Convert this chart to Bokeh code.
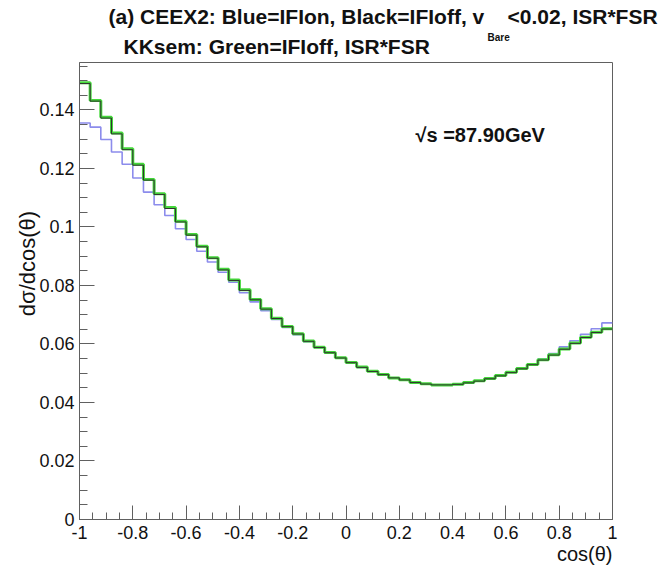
import numpy as np
from bokeh.plotting import figure
from bokeh.models import Range1d, FixedTicker, Label
from bokeh.embed import file_html
from bokeh.resources import INLINE

# ---------------- data ----------------
n_bins = 50
x_lo, x_hi = -1.0, 1.0
y_max = 0.1562

green_kksem_ifioff = [
    0.1493, 0.1432, 0.1375, 0.1321, 0.1267, 0.1214, 0.1162, 0.1113, 0.1066, 0.1019,
    0.0974, 0.0934, 0.0895, 0.0855, 0.0819, 0.0785, 0.0752, 0.0720, 0.0688, 0.0660,
    0.0635, 0.0610, 0.0589, 0.0571, 0.0553, 0.0537, 0.0521, 0.0507, 0.0496, 0.0484,
    0.0478, 0.0468, 0.0464, 0.0460, 0.0460, 0.0462, 0.0468, 0.0474, 0.0482, 0.0492,
    0.0503, 0.0516, 0.0530, 0.0546, 0.0563, 0.0583, 0.0603, 0.0623, 0.0640, 0.0652,
]
black_ceex2_ifioff = [
    0.1490, 0.1430, 0.1372, 0.1318, 0.1264, 0.1211, 0.1160, 0.1111, 0.1063, 0.1017,
    0.0972, 0.0932, 0.0893, 0.0853, 0.0817, 0.0783, 0.0751, 0.0719, 0.0687, 0.0659,
    0.0634, 0.0609, 0.0588, 0.0570, 0.0552, 0.0536, 0.0520, 0.0506, 0.0495, 0.0484,
    0.0477, 0.0468, 0.0463, 0.0460, 0.0460, 0.0462, 0.0467, 0.0473, 0.0481, 0.0491,
    0.0502, 0.0515, 0.0529, 0.0545, 0.0562, 0.0582, 0.0602, 0.0622, 0.0639, 0.0651,
]
blue_ceex2_ifion = [
    0.1355, 0.1341, 0.1299, 0.1256, 0.1214, 0.1167, 0.1119, 0.1076, 0.1039, 0.0994,
    0.0957, 0.0917, 0.0880, 0.0845, 0.0811, 0.0775, 0.0744, 0.0714, 0.0684, 0.0656,
    0.0632, 0.0608, 0.0587, 0.0569, 0.0552, 0.0536, 0.0520, 0.0507, 0.0495, 0.0484,
    0.0477, 0.0468, 0.0463, 0.0460, 0.0460, 0.0462, 0.0467, 0.0474, 0.0482, 0.0493,
    0.0504, 0.0517, 0.0531, 0.0548, 0.0567, 0.0590, 0.0611, 0.0633, 0.0652, 0.0672,
]

x_ticks = [-1.0, -0.8, -0.6, -0.4, -0.2, 0.0, 0.2, 0.4, 0.6, 0.8, 1.0]
x_tick_labels = ["-1", "-0.8", "-0.6", "-0.4", "-0.2", "0", "0.2", "0.4", "0.6", "0.8", "1"]
y_ticks = [0.0, 0.02, 0.04, 0.06, 0.08, 0.10, 0.12, 0.14]
y_tick_labels = ["0", "0.02", "0.04", "0.06", "0.08", "0.1", "0.12", "0.14"]
x_minor_step = 0.05
y_minor_step = 0.005

# the gap of no-break spaces leaves room for the "Bare" subscript of v
title_line1 = "(a) CEEX2: Blue=IFIon, Black=IFIoff, v\u00a0\u00a0\u00a0\u00a0<0.02, ISR*FSR"
title_sub = "Bare"
title_line2 = "KKsem: Green=IFIoff, ISR*FSR"
energy_text = "\u221as =87.90GeV"
y_title = "d\u03c3/dcos(\u03b8)"
x_title = "cos(\u03b8)"

# ---------------- layout ----------------
W, H = 662, 568
L, T = 79, 62
FW, FH = 533, 457
R, B = W - L - FW, H - T - FH
FONT = "Liberation Sans"


def px_x(page_x):
    return x_lo + (page_x - L) * (x_hi - x_lo) / FW


def px_y(page_y):
    return (T + FH - page_y) * y_max / FH


p = figure(width=W, height=H, output_backend="svg", toolbar_location=None,
           x_range=Range1d(x_lo, x_hi), y_range=Range1d(0, y_max),
           min_border_left=L, min_border_right=R, min_border_top=T, min_border_bottom=B)
p.background_fill_color = "white"
p.border_fill_color = "white"
p.outline_line_color = "#606060"
p.outline_line_width = 1
p.xgrid.visible = False
p.ygrid.visible = False

edges = np.linspace(x_lo, x_hi, n_bins + 1)


def step_y(vals):
    v = list(vals)
    return v + [v[-1]]


p.step(edges, step_y(blue_ceex2_ifion), mode="after", line_color="#8c8cec", line_width=1.6)
p.step(edges, step_y(green_kksem_ifioff), mode="after", line_color="#44d83a", line_width=3.0)
p.step(edges, step_y(black_ceex2_ifioff), mode="after", line_color="#303030", line_width=1.0)

x_minor = list(np.round(np.arange(x_lo, x_hi + 1e-9, x_minor_step), 4))
y_minor = list(np.round(np.arange(0, y_max, y_minor_step), 4))

p.xaxis.ticker = FixedTicker(ticks=x_ticks, minor_ticks=x_minor)
p.yaxis.ticker = FixedTicker(ticks=y_ticks, minor_ticks=y_minor)
p.xaxis.major_label_overrides = {t: s for t, s in zip(x_ticks, x_tick_labels)}
p.yaxis.major_label_overrides = {t: s for t, s in zip(y_ticks, y_tick_labels)}

for ax in (p.xaxis, p.yaxis):
    ax.axis_line_color = "#606060"
    ax.major_tick_line_color = "#606060"
    ax.minor_tick_line_color = "#606060"
    ax.major_tick_out = 0
    ax.minor_tick_out = 0
    ax.major_label_text_font = FONT
    ax.major_label_text_font_size = "18px"
    ax.major_label_text_color = "#111111"

p.xaxis.major_tick_in = 14
p.xaxis.minor_tick_in = 7
p.yaxis.major_tick_in = 15
p.yaxis.minor_tick_in = 8
p.xaxis.major_label_standoff = 6
p.yaxis.major_label_standoff = 5


def add_text(place, text, page_x, page_y, size, bold=False, align="left", angle=0.0):
    lab = Label(x=px_x(page_x), y=px_y(page_y), x_units="data", y_units="data",
                text=text, text_font=FONT, text_font_size=size,
                text_font_style="bold" if bold else "normal",
                text_align=align, text_baseline="middle", angle=angle,
                text_color="#111111")
    if place == "center":
        p.add_layout(lab)
    else:
        p.add_layout(lab, place)


add_text("above", title_line1, 108, 16, "21px", bold=True)
add_text("above", title_line2, 123, 46, "21px", bold=True)
add_text("right", title_sub, 487, 36.5, "10px", bold=True)
add_text("center", energy_text, 415, 134, "20px", bold=True)
add_text("left", y_title, 27, 263, "22px", align="center", angle=np.pi / 2)
add_text("below", x_title, 612, 553, "20px", align="right")

open("out.html", "w").write(file_html(p, INLINE))
